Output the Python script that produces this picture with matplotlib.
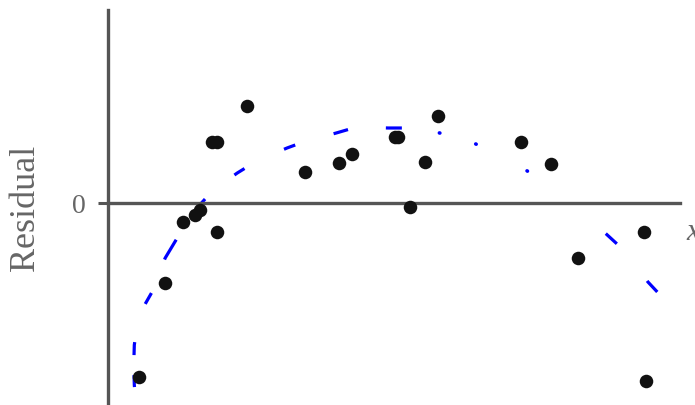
import matplotlib
matplotlib.use("Agg")
import matplotlib.pyplot as plt
import numpy as np

plt.rcParams['lines.scale_dashes'] = False

# Observed residuals
x_obs = [0.54, 1.00, 1.31, 1.52, 1.61, 1.82, 1.91, 1.91, 2.43, 3.44, 4.04, 4.27,
         5.01, 5.07, 5.28, 5.54, 5.77, 7.22, 7.74, 8.22, 9.37, 9.41]
y_obs = [-1.74, -0.80, -0.19, -0.12, -0.07, 0.61, 0.61, -0.29, 0.97, 0.31, 0.40, 0.49,
         0.66, 0.66, -0.04, 0.41, 0.87, 0.61, 0.39, -0.55, -0.29, -1.78]

# Trend curve through residuals
x_curve = [0.49, 0.46, 0.45, 0.46, 0.51, 0.59, 0.66, 0.77, 0.87, 1.00, 1.21, 1.40, 1.57,
           1.73, 1.99, 2.26, 2.43, 2.80, 3.13, 3.32, 3.67, 3.99, 4.23, 4.58, 4.90, 5.17,
           5.45, 5.80, 6.12, 6.43, 6.85, 7.33, 7.69, 8.04,
           8.43, 8.71, 8.90, 9.18, 9.44, 9.62, 9.93, 10.24]
y_curve = [-2.02, -1.82, -1.62, -1.42, -1.22, -1.07, -1.00, -0.89, -0.73, -0.55, -0.35, -0.18, -0.04,
           0.06, 0.19, 0.30, 0.36, 0.47, 0.55, 0.59, 0.65, 0.70, 0.74, 0.755, 0.75, 0.75,
           0.73, 0.70, 0.65, 0.59, 0.48, 0.32, 0.18, 0.02,
           -0.17, -0.31, -0.41, -0.59, -0.79, -0.90, -1.17, -1.49]

ytick_vals = [0]
ytick_labels = ["0"]

W, H = 695, 405
fig = plt.figure(figsize=(W / 100, H / 100), dpi=100)
ax = fig.add_axes([108 / W, 0, (680 - 108) / W, 395 / H])
ax.set_xlim(0, 10)
ax.set_ylim(-2.02, 1.93)

axis_col = "#555555"
for s in ["top", "right"]:
    ax.spines[s].set_visible(False)
ax.spines["bottom"].set_position(("data", 0))
for s in ["left", "bottom"]:
    ax.spines[s].set_color(axis_col)
    ax.spines[s].set_linewidth(2.4)
ax.set_xticks([])
ax.set_yticks(ytick_vals)
ax.set_yticklabels(ytick_labels, family="Liberation Serif", fontsize=20, color="#666666")
ax.tick_params(axis="y", length=7.2, width=2.2, color=axis_col, pad=9)

ax.set_ylabel("Residual", family="Liberation Serif", fontsize=26, color="#666666")
ax.yaxis.set_label_coords(-66 / 572, 0.499)

# curve split into styled sections
px = 0.72
iA = x_curve.index(5.17)
iB = x_curve.index(8.04)
segA = [v * px for v in [12, 20, 13, 40, 12.5, 36, 23, 37, 13, 38, 12, 44, 12, 40, 15, 38, 16, 18]]
segB = [v * px for v in [0.5, 37.5, 0.5, 57.5, 0.5, 50.5, 0.5, 36]]
segC = [v * px for v in [15, 48, 15, 200, 0.01, 50]]

ax.plot(x_curve[:iA + 1], y_curve[:iA + 1], color="blue", lw=2.3, clip_on=False,
        linestyle=(sum(segA) - 18 * px, segA), dash_capstyle="butt")
ax.plot(x_curve[iA:iB + 1], y_curve[iA:iB + 1], color="blue", lw=2.6, clip_on=False,
        linestyle=(sum(segB) - 36 * px, segB), dash_capstyle="round")
ax.plot(x_curve[iB:], y_curve[iB:], color="blue", lw=2.3, clip_on=False,
        linestyle=(sum(segC) - 50 * px, segC), dash_capstyle="butt")

ax.scatter(x_obs, y_obs, s=95, color="#111111", zorder=3, clip_on=False, linewidths=0)

fig.text(686 / W, 1 - 232 / H, "x", family="Liberation Serif", style="italic",
         fontsize=22, color="#666666", ha="left", va="center")

fig.savefig("out.png", dpi=100)
